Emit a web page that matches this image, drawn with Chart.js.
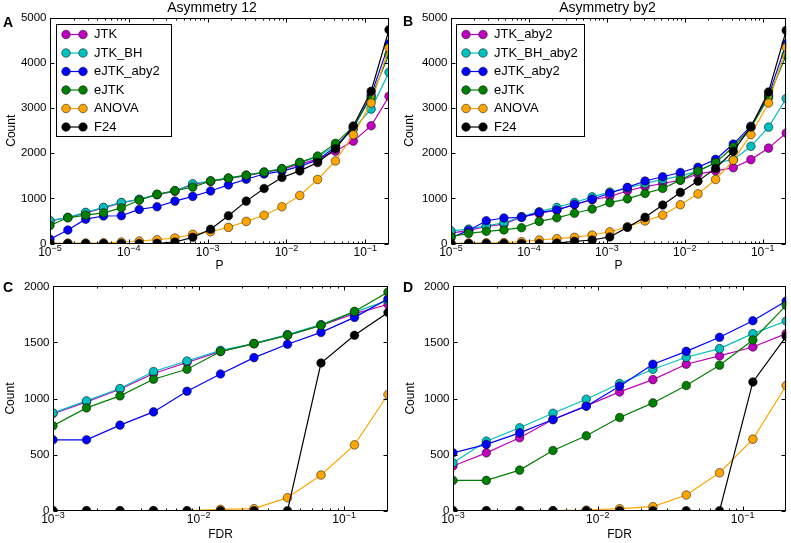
<!DOCTYPE html>
<html>
<head>
<meta charset="utf-8">
<script src="https://cdn.jsdelivr.net/npm/chart.js@4.4.0/dist/chart.umd.min.js"></script>
<style>
  html, body { margin: 0; padding: 0; background: #fff; }
  #wrap { position: relative; width: 791px; height: 543px; overflow: hidden; }
  #wrap canvas { position: absolute; }
</style>
</head>
<body>
<div id="wrap">
  <canvas id="panelA"></canvas>
  <canvas id="panelB"></canvas>
  <canvas id="panelC"></canvas>
  <canvas id="panelD"></canvas>
</div>
<script>
// thresholds on the x axes
const pThresholds = [
  1.0e-5, 1.684e-5, 2.836e-5, 4.776e-5, 8.043e-5, 1.3545e-4, 2.281e-4,
  3.841e-4, 6.469e-4, 1.0895e-3, 1.8347e-3, 3.09e-3, 5.204e-3, 8.764e-3,
  1.4759e-2, 2.4855e-2, 4.186e-2, 7.049e-2, 0.1187, 0.2,
]
const fdrThresholds = [
  1.0e-3, 1.6986e-3, 2.885e-3, 4.901e-3, 8.326e-3, 1.4142e-2, 2.4022e-2,
  4.0804e-2, 6.931e-2, 0.11774, 0.2,
]
// decade ticks, labelled 10 with a raised exponent
const pTicks = [1e-5, 1e-4, 1e-3, 1e-2, 1e-1]
const pTickExponents = ['\u22125', '\u22124', '\u22123', '\u22122', '\u22121']
const fdrTicks = [1e-3, 1e-2, 1e-1]
const fdrTickExponents = ['\u22123', '\u22122', '\u22121']

const namesA = ['JTK', 'JTK_BH', 'eJTK_aby2', 'eJTK', 'ANOVA', 'F24']
const namesB = ['JTK_aby2', 'JTK_BH_aby2', 'eJTK_aby2', 'eJTK', 'ANOVA', 'F24']

// A: Asymmetry 12, count vs P
const jtkA = [500, 575, 680, 790, 900, 975, 1080, 1160, 1310, 1375, 1440, 1505, 1575, 1645, 1760, 1870, 2045, 2270, 2610, 3265]
const jtkBhA = [505, 580, 690, 800, 910, 980, 1090, 1170, 1325, 1390, 1450, 1515, 1585, 1660, 1790, 1920, 2170, 2540, 2980, 3795]
const ejtkAby2A = [95, 300, 540, 610, 615, 755, 815, 940, 1045, 1165, 1300, 1425, 1540, 1605, 1710, 1850, 2140, 2560, 3290, 4430]
const ejtkA = [400, 570, 630, 680, 790, 960, 1090, 1170, 1250, 1385, 1450, 1515, 1580, 1655, 1800, 1940, 2220, 2590, 3235, 4190]
const anovaA = [5, 8, 10, 15, 33, 55, 84, 122, 204, 260, 358, 490, 625, 815, 1065, 1420, 1830, 2410, 3115, 4340]
const f24A = [0, 0, 0, 0, 0, 0, 5, 33, 137, 315, 615, 940, 1220, 1465, 1610, 1795, 2100, 2605, 3375, 4740]

// B: Asymmetry by2, count vs P
const jtkB = [230, 290, 380, 430, 590, 660, 750, 860, 970, 1040, 1170, 1260, 1330, 1405, 1540, 1610, 1680, 1860, 2115, 2450]
const jtkBhB = [280, 320, 390, 460, 595, 705, 800, 910, 1035, 1140, 1230, 1330, 1420, 1495, 1605, 1790, 1860, 2155, 2580, 3215]
const ejtkAby2B = [130, 290, 505, 565, 580, 690, 740, 865, 980, 1115, 1245, 1385, 1480, 1575, 1690, 1865, 2205, 2600, 3280, 4430]
const ejtkB = [150, 225, 270, 300, 350, 490, 570, 670, 765, 905, 990, 1110, 1220, 1405, 1605, 1795, 2140, 2570, 3235, 4180]
const anovaB = [5, 10, 15, 20, 40, 77, 106, 137, 188, 258, 372, 498, 630, 858, 1100, 1420, 1845, 2415, 3115, 4350]
const f24B = [0, 0, 0, 0, 0, 0, 10, 48, 77, 145, 358, 580, 852, 1133, 1383, 1665, 2045, 2585, 3360, 4725]

// C: Asymmetry 12, count vs FDR
const jtkC = [866, 970, 1083, 1223, 1321, 1421, 1490, 1565, 1653, 1757, 1839]
const jtkBhC = [872, 979, 1089, 1241, 1335, 1430, 1490, 1570, 1659, 1771, 1875]
const ejtkAby2C = [632, 632, 763, 881, 1065, 1219, 1365, 1484, 1590, 1724, 1890]
const ejtkC = [757, 917, 1024, 1172, 1261, 1419, 1490, 1564, 1653, 1777, 1949]
const anovaC = [0, 0, 0, 0, 0, 12, 18, 116, 318, 587, 1036]
const f24C = [0, 0, 0, 0, 0, 0, 0, 0, 1317, 1564, 1768]

// D: Asymmetry by2, count vs FDR
const jtkD = [398, 516, 650, 813, 935, 1059, 1169, 1306, 1380, 1460, 1579]
const jtkBhD = [427, 620, 739, 869, 994, 1134, 1261, 1368, 1445, 1579, 1691]
const ejtkAby2D = [516, 591, 694, 813, 932, 1110, 1306, 1421, 1546, 1694, 1869]
const ejtkD = [270, 270, 362, 537, 668, 831, 961, 1116, 1297, 1522, 1831]
const anovaD = [0, 0, 0, 0, 5, 18, 36, 140, 338, 638, 1116]
const f24D = [0, 0, 0, 0, 0, 0, 0, 0, 0, 1148, 1555]

const FONT = '"Liberation Sans", Arial, sans-serif'
const seriesColors = ['#bf00bf', '#00bfbf', '#0000ff', '#008000', '#ffa500', '#000000']

Chart.defaults.font.family = FONT
Chart.defaults.color = '#000'

// box, inward ticks on all four sides (matplotlib classic look)
const framePlugin = {
  id: 'frame',
  afterDatasetsDraw(chart) {
    const { ctx, chartArea, scales } = chart
    const left = Math.round(chartArea.left) + 0.5
    const right = Math.round(chartArea.right) - 0.5
    const top = Math.round(chartArea.top) + 0.5
    const bottom = Math.round(chartArea.bottom) - 0.5
    const x = scales.x
    const y = scales.y
    ctx.save()
    ctx.strokeStyle = '#000'
    ctx.lineWidth = 1
    ctx.beginPath()
    const xTick = (v, len) => {
      const px = Math.round(x.getPixelForValue(v)) + 0.5
      ctx.moveTo(px, bottom)
      ctx.lineTo(px, bottom - len)
      ctx.moveTo(px, top)
      ctx.lineTo(px, top + len)
    }
    x.ticks.forEach((t) => xTick(t.value, 4))
    const lo = Math.floor(Math.log10(x.min))
    const hi = Math.ceil(Math.log10(x.max))
    for (let k = lo; k < hi; k++) {
      for (let m = 2; m < 10; m++) {
        const v = m * Math.pow(10, k)
        if (v > x.min && v < x.max) xTick(v, 2)
      }
    }
    y.ticks.forEach((t) => {
      const py = Math.round(y.getPixelForValue(t.value)) + 0.5
      ctx.moveTo(left, py)
      ctx.lineTo(left + 4, py)
      ctx.moveTo(right, py)
      ctx.lineTo(right - 4, py)
    })
    ctx.stroke()
    ctx.strokeRect(left, top, right - left, bottom - top)
    ctx.restore()
  },
}

// x tick labels as 10 with a superscript exponent
const powerLabels = {
  id: 'powerLabels',
  afterDraw(chart, args, opts) {
    const { ctx, chartArea, scales } = chart
    const base = chartArea.bottom + 12
    ctx.save()
    ctx.fillStyle = '#000'
    ctx.textBaseline = 'alphabetic'
    ctx.textAlign = 'left'
    scales.x.ticks.forEach((t, i) => {
      const px = scales.x.getPixelForValue(t.value)
      const exp = opts.exponents[i]
      ctx.font = '12px ' + FONT
      const w1 = ctx.measureText('10').width
      ctx.font = '9px ' + FONT
      const w2 = ctx.measureText(exp).width
      const start = px - (w1 + w2) / 2
      ctx.font = '12px ' + FONT
      ctx.fillText('10', start, base)
      ctx.font = '9px ' + FONT
      ctx.fillText(exp, start + w1, base - 5)
    })
    ctx.restore()
  },
}

// legend inside the axes, line with two markers per entry
const boxLegend = {
  id: 'boxLegend',
  afterDraw(chart, args, opts) {
    const { ctx } = chart
    const { x, y, w, h } = opts
    ctx.save()
    ctx.fillStyle = '#fff'
    ctx.fillRect(x, y, w, h)
    ctx.strokeStyle = '#000'
    ctx.lineWidth = 1
    ctx.strokeRect(x + 0.5, y + 0.5, w, h)
    ctx.font = '13px ' + FONT
    ctx.textBaseline = 'middle'
    ctx.textAlign = 'left'
    chart.data.datasets.forEach((ds, i) => {
      const cy = y + 10.5 + i * 18.5
      ctx.strokeStyle = ds.borderColor
      ctx.lineWidth = 1.2
      ctx.beginPath()
      ctx.moveTo(x + 10, cy)
      ctx.lineTo(x + 27, cy)
      ctx.stroke()
      const marks = [x + 10, x + 27]
      marks.forEach((mx) => {
        ctx.beginPath()
        ctx.arc(mx, cy, 4.3, 0, 2 * Math.PI)
        ctx.fillStyle = ds.backgroundColor
        ctx.fill()
        ctx.lineWidth = 0.5
        ctx.strokeStyle = '#000'
        ctx.stroke()
      })
      ctx.fillStyle = '#000'
      ctx.fillText(ds.label, x + 38, cy)
    })
    ctx.restore()
  },
}

// panel letter and panel title
const panelText = {
  id: 'panelText',
  afterDraw(chart, args, opts) {
    const { ctx } = chart
    ctx.save()
    ctx.fillStyle = '#000'
    ctx.textBaseline = 'middle'
    ctx.textAlign = 'center'
    if (opts.title) {
      ctx.font = '14px ' + FONT
      ctx.fillText(opts.title, opts.titleX, opts.titleY)
    }
    ctx.font = 'bold 14px ' + FONT
    ctx.fillText(opts.letter, opts.letterX, opts.letterY)
    ctx.restore()
  },
}

const makeDatasets = (names, valueLists) =>
  valueLists.map((values, i) => ({
    label: names[i],
    data: values,
    borderColor: seriesColors[i],
    backgroundColor: seriesColors[i],
    pointBackgroundColor: seriesColors[i],
    pointBorderColor: '#000',
    pointBorderWidth: 0.5,
    pointRadius: 4.3,
    borderWidth: 1.2,
    order: valueLists.length - i,
    clip: 0,
  }))

const drawPanel = (panel) => {
  const { box, area } = panel
  const canvas = document.getElementById(panel.id)
  canvas.width = box.w
  canvas.height = box.h
  canvas.style.left = box.x + 'px'
  canvas.style.top = box.y + 'px'
  return new Chart(canvas, {
    type: 'line',
    data: {
      labels: panel.thresholds,
      datasets: makeDatasets(panel.names, panel.values),
    },
    options: {
      responsive: false,
      animation: false,
      events: [],
      layout: {
        padding: { left: 0, top: area.t - box.y, right: box.x + box.w - area.r, bottom: 0 },
      },
      plugins: {
        legend: { display: false },
        tooltip: { enabled: false },
        boxLegend: panel.legend || false,
        panelText: panel.text,
        powerLabels: { exponents: panel.exponents },
      },
      scales: {
        x: {
          type: 'logarithmic',
          min: panel.thresholds[0],
          max: panel.thresholds[panel.thresholds.length - 1],
          grid: { display: false, drawTicks: false },
          border: { display: false },
          afterBuildTicks: (scale) => {
            scale.ticks = panel.ticks.map((value) => ({ value }))
          },
          afterFit: (scale) => {
            scale.height = box.y + box.h - area.b
          },
          ticks: { display: false, autoSkip: false, maxRotation: 0 },
          title: {
            display: true,
            text: panel.xTitle,
            font: { size: 12, lineHeight: 1 },
            padding: { top: 0, bottom: panel.xTitlePad },
          },
        },
        y: {
          min: 0,
          max: panel.yMax,
          grid: { display: false, drawTicks: false },
          border: { display: false },
          afterFit: (scale) => {
            scale.width = area.l - box.x
          },
          ticks: {
            stepSize: panel.yStep,
            padding: 3.5,
            font: { size: 11.5 },
            callback: (value) => String(value),
          },
          title: {
            display: true,
            text: 'Count',
            font: { size: 12, lineHeight: 1 },
            padding: { top: panel.yTitlePad, bottom: 0 },
          },
        },
      },
    },
    plugins: [framePlugin, powerLabels, boxLegend, panelText],
  })
}

drawPanel({
  id: 'panelA',
  box: { x: 0, y: 0, w: 396, h: 276 },
  area: { l: 50, r: 389, t: 18, b: 243.5 },
  thresholds: pThresholds,
  ticks: pTicks,
  exponents: pTickExponents,
  names: namesA,
  values: [jtkA, jtkBhA, ejtkAby2A, ejtkA, anovaA, f24A],
  yMax: 5000,
  yStep: 1000,
  xTitle: 'P',
  xTitlePad: 4,
  yTitlePad: 6,
  legend: { x: 56, y: 24, w: 115, h: 112 },
  text: { title: 'Asymmetry 12', titleX: 212, titleY: 8.5, letter: 'A', letterX: 8, letterY: 23 },
})

drawPanel({
  id: 'panelB',
  box: { x: 396, y: 0, w: 395, h: 276 },
  area: { l: 451, r: 788, t: 18, b: 243.5 },
  thresholds: pThresholds,
  ticks: pTicks,
  exponents: pTickExponents,
  names: namesB,
  values: [jtkB, jtkBhB, ejtkAby2B, ejtkB, anovaB, f24B],
  yMax: 5000,
  yStep: 1000,
  xTitle: 'P',
  xTitlePad: 4,
  yTitlePad: 8,
  legend: { x: 60, y: 24, w: 128, h: 112 },
  text: { title: 'Asymmetry by2', titleX: 211.5, titleY: 8.5, letter: 'B', letterX: 12, letterY: 22 },
})

drawPanel({
  id: 'panelC',
  box: { x: 0, y: 276, w: 396, h: 267 },
  area: { l: 53, r: 388, t: 286, b: 510.7 },
  thresholds: fdrThresholds,
  ticks: fdrTicks,
  exponents: fdrTickExponents,
  names: namesA,
  values: [jtkC, jtkBhC, ejtkAby2C, ejtkC, anovaC, f24C],
  yMax: 2000,
  yStep: 500,
  xTitle: 'FDR',
  xTitlePad: 2,
  yTitlePad: 5,
  text: { letter: 'C', letterX: 8, letterY: 12 },
})

drawPanel({
  id: 'panelD',
  box: { x: 396, y: 276, w: 395, h: 267 },
  area: { l: 453, r: 788, t: 286, b: 510.7 },
  thresholds: fdrThresholds,
  ticks: fdrTicks,
  exponents: fdrTickExponents,
  names: namesB,
  values: [jtkD, jtkBhD, ejtkAby2D, ejtkD, anovaD, f24D],
  yMax: 2000,
  yStep: 500,
  xTitle: 'FDR',
  xTitlePad: 2,
  yTitlePad: 9,
  text: { letter: 'D', letterX: 12, letterY: 12 },
})
</script>
</body>
</html>
